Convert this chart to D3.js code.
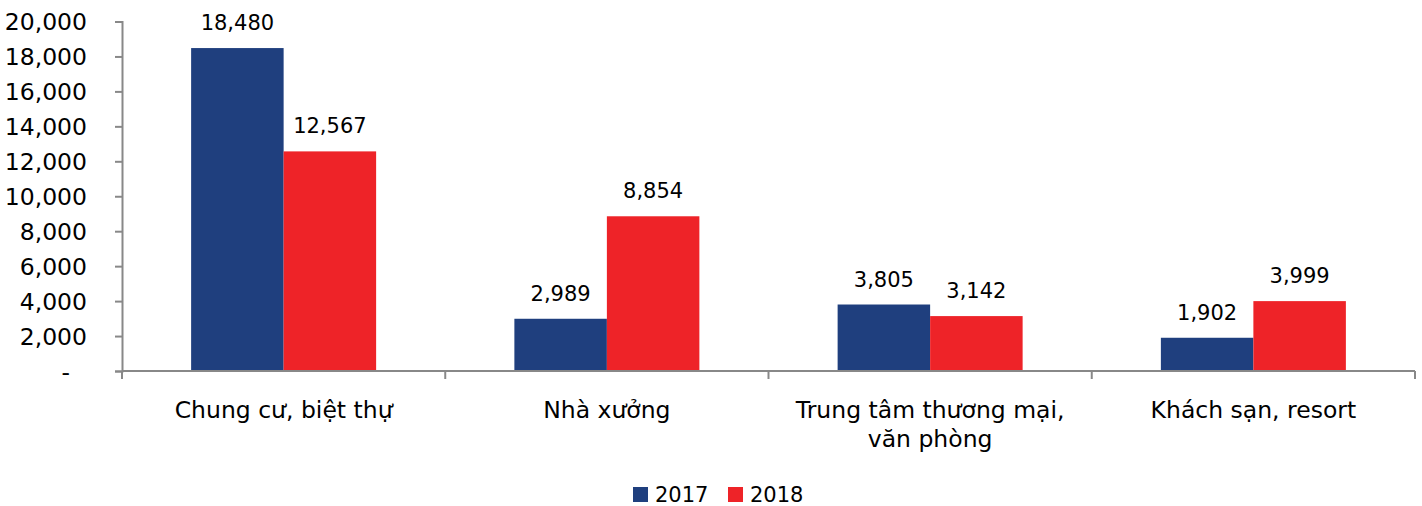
<!DOCTYPE html>
<html>
<head>
<meta charset="utf-8">
<script src="https://d3js.org/d3.v7.min.js"></script>
<style>
body {margin:0; background:white;}
text {font-family: "DejaVu Sans", Verdana, sans-serif; fill:#000;}
</style>
</head>
<body>
<svg width="1422" height="506"></svg>
<script>
var categories = [["Chung cư, biệt thự"], ["Nhà xưởng"], ["Trung tâm thương mại,", "văn phòng"], ["Khách sạn, resort"]];
var series = ["2017", "2018"];
var values2017 = [18480, 2989, 3805, 1902];
var values2018 = [12567, 8854, 3142, 3999];
var yTicks = [0, 2000, 4000, 6000, 8000, 10000, 12000, 14000, 16000, 18000, 20000];
var colors = ["#1F3F7E", "#EE2328"];

var leftM = 122, rightM = 1415, topM = 21.5, bottomM = 371;
var svg = d3.select("svg");

var keys = categories.map(function(c) { return c.join(" "); });
var x = d3.scaleBand().domain(keys).range([leftM, rightM]);
var x1 = d3.scaleBand().domain(series).range([0, 185]);
var y = d3.scaleLinear().domain([0, 20000]).range([bottomM, topM]);
var color = d3.scaleOrdinal().domain(series).range(colors);
var fmt = d3.format(",");

var data = [];
keys.forEach(function(k, i) {
  data.push({cat: k, s: "2017", v: values2017[i]});
  data.push({cat: k, s: "2018", v: values2018[i]});
});

var off = (x.bandwidth() - 185) / 2;
svg.append("g").selectAll("rect")
  .data(data).enter().append("rect")
  .attr("x", function(d) { return x(d.cat) + off + x1(d.s); })
  .attr("width", x1.bandwidth())
  .attr("y", function(d) { return y(d.v); })
  .attr("height", function(d) { return bottomM - y(d.v); })
  .attr("fill", function(d) { return color(d.s); });

svg.append("g").selectAll("text")
  .data(data).enter().append("text")
  .attr("x", function(d) { return x(d.cat) + off + x1(d.s) + x1.bandwidth() / 2; })
  .attr("y", function(d) { return y(d.v) - 18; })
  .attr("text-anchor", "middle")
  .style("font-size", "21px")
  .text(function(d) { return fmt(d.v); });

// y axis
var yAxis = svg.append("g")
  .attr("transform", "translate(" + leftM + ",0)")
  .call(d3.axisLeft(y).tickValues(yTicks).tickSize(7).tickPadding(28)
    .tickFormat(function(d) { return d === 0 ? "-" : fmt(d); }));
yAxis.selectAll("text").style("font-size", "23.5px").style("font-family", "'DejaVu Sans', sans-serif").attr("fill", "#000").attr("dy", "0.35em");
yAxis.select(".domain").attr("stroke", "#888").attr("stroke-width", 2);
yAxis.selectAll(".tick line").attr("stroke", "#888").attr("stroke-width", 2);
yAxis.select(".tick:first-of-type text").attr("dx", "-17");

// x axis
var xg = svg.append("g").attr("transform", "translate(0," + bottomM + ")");
xg.append("line").attr("x1", leftM).attr("x2", rightM).attr("stroke", "#888").attr("stroke-width", 2);
var bounds = keys.map(function(k) { return x(k); }).concat([rightM]);
xg.selectAll(".tk").data(bounds).enter().append("line")
  .attr("x1", function(d) { return d; }).attr("x2", function(d) { return d; })
  .attr("y1", 0).attr("y2", 8).attr("stroke", "#888").attr("stroke-width", 2);

svg.append("g").selectAll("text")
  .data(categories).enter().append("text")
  .attr("x", function(d) { return x(d.join(" ")) + x.bandwidth() / 2; })
  .attr("y", 418)
  .attr("text-anchor", "middle")
  .style("font-size", "23.5px")
  .each(function(d) {
    var t = d3.select(this);
    d.forEach(function(line, i) {
      t.append("tspan").attr("x", t.attr("x")).attr("dy", i === 0 ? 0 : 29).text(line);
    });
  });

// legend
var lx = [633, 728];
var lg = svg.append("g").selectAll("g").data(series).enter().append("g")
  .attr("transform", function(d, i) { return "translate(" + lx[i] + ",487)"; });
lg.append("rect").attr("width", 15).attr("height", 15).attr("fill", function(d) { return color(d); });
lg.append("text").attr("x", 22).attr("y", 15).style("font-size", "21px").text(function(d) { return d; });
</script>
</body>
</html>
